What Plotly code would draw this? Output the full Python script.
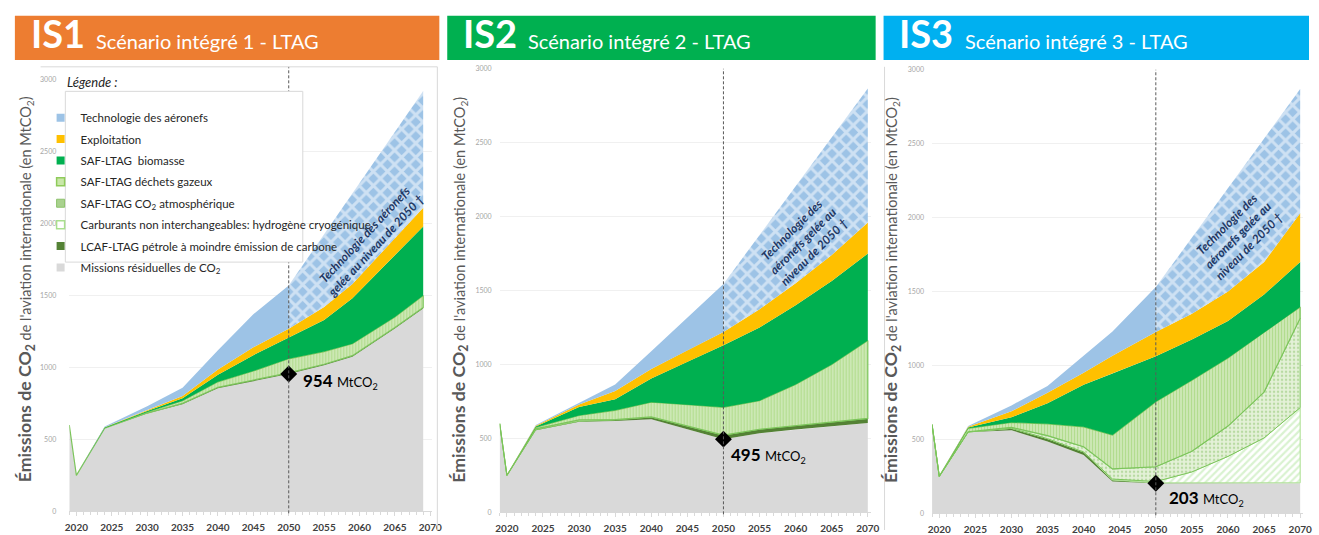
"""Trajectoires d'émissions CO2 de l'aviation internationale - scénarios intégrés LTAG."""

import plotly.graph_objects as go

W, H = 1319, 535
FONT = "Lato"

# cumulative levels (top of each band), MtCO2
IS1_YEARS = [2019, 2020, 2024, 2030, 2035, 2040, 2045, 2050, 2055, 2059, 2065, 2069]
IS1_RESIDUAL = [600, 250, 578, 680, 745, 855, 905, 954, 1015, 1075, 1270, 1410]
IS1_LCAF = [600, 250, 578, 683, 750, 862, 912, 962, 1022, 1082, 1277, 1417]
IS1_H2 = [600, 250, 578, 683, 750, 862, 912, 962, 1022, 1082, 1277, 1417]
IS1_CO2_ATM = [600, 250, 578, 683, 750, 862, 912, 962, 1022, 1082, 1277, 1417]
IS1_DECHETS = [600, 250, 580, 690, 768, 900, 975, 1060, 1110, 1165, 1350, 1500]
IS1_BIOMASSE = [600, 250, 582, 697, 785, 950, 1085, 1205, 1330, 1480, 1780, 1980]
IS1_EXPLOITATION = [600, 250, 585, 705, 802, 985, 1140, 1268, 1420, 1580, 1900, 2110]
IS1_TECHNO = [600, 250, 590, 730, 858, 1120, 1370, 1570, 1925, 2210, 2640, 2920]

IS2_YEARS = [2019, 2020, 2024, 2030, 2035, 2040, 2045, 2050, 2055, 2060, 2065, 2070]
IS2_RESIDUAL = [600, 250, 555, 612, 618, 630, 562, 495, 535, 560, 585, 605]
IS2_LCAF = [600, 250, 558, 616, 624, 645, 585, 522, 562, 590, 612, 635]
IS2_H2 = [600, 250, 558, 616, 624, 645, 585, 522, 562, 590, 612, 635]
IS2_CO2_ATM = [600, 250, 565, 625, 628, 645, 585, 522, 562, 590, 612, 635]
IS2_DECHETS = [600, 250, 575, 655, 690, 745, 728, 710, 755, 865, 1000, 1163]
IS2_BIOMASSE = [600, 250, 580, 712, 765, 905, 1018, 1130, 1250, 1400, 1565, 1750]
IS2_EXPLOITATION = [600, 250, 585, 730, 820, 970, 1097, 1220, 1374, 1550, 1740, 1960]
IS2_TECHNO = [600, 250, 590, 740, 865, 1090, 1315, 1545, 1875, 2206, 2536, 2867]

IS3_YEARS = [2019, 2020, 2024, 2030, 2035, 2040, 2044, 2050, 2055, 2060, 2065, 2070]
IS3_RESIDUAL = [600, 250, 548, 562, 485, 395, 215, 203, 203, 203, 203, 203]
IS3_LCAF = [600, 250, 550, 575, 505, 415, 225, 206, 206, 206, 206, 206]
IS3_H2 = [600, 250, 550, 575, 505, 415, 232, 215, 280, 385, 510, 715]
IS3_CO2_ATM = [600, 250, 552, 582, 525, 450, 300, 315, 420, 590, 820, 1320]
IS3_DECHETS = [600, 250, 575, 615, 605, 585, 529, 755, 900, 1050, 1225, 1395]
IS3_BIOMASSE = [600, 250, 580, 650, 745, 870, 945, 1063, 1175, 1300, 1480, 1700]
IS3_EXPLOITATION = [600, 250, 585, 690, 815, 950, 1065, 1226, 1350, 1500, 1700, 2030]
IS3_TECHNO = [600, 250, 590, 730, 861, 1066, 1230, 1530, 1865, 2200, 2535, 2870]

FREEZE_YEAR = 2050
EMISSIONS_2050 = [954, 495, 203]

SCENARIO_CODES = ["IS1", "IS2", "IS3"]
SCENARIO_NAMES = ["Scénario intégré 1 - LTAG", "Scénario intégré 2 - LTAG", "Scénario intégré 3 - LTAG"]
BANNER_COLORS = ["#ED7D31", "#00B050", "#00B0F0"]

LEGEND_LABELS = [
    "Technologie des aéronefs",
    "Exploitation",
    "SAF-LTAG  biomasse",
    "SAF-LTAG déchets gazeux",
    "SAF-LTAG CO<sub>2</sub> atmosphérique",
    "Carburants non interchangeables: hydrogène cryogénique",
    "LCAF-LTAG pétrole à moindre émission de carbone",
    "Missions résiduelles de CO<sub>2</sub>",
]

FROZEN_TEXT = [
    "Technologie des aéronefs<br>gelée au niveau de 2050 †",
    "Technologie des<br>aéronefs gelée au<br>niveau de 2050 †",
    "Technologie des<br>aéronefs gelée au<br>niveau de 2050 †",
]

SCENARIOS = [
    (IS1_YEARS, [IS1_RESIDUAL, IS1_LCAF, IS1_H2, IS1_CO2_ATM, IS1_DECHETS,
                 IS1_BIOMASSE, IS1_EXPLOITATION, IS1_TECHNO]),
    (IS2_YEARS, [IS2_RESIDUAL, IS2_LCAF, IS2_H2, IS2_CO2_ATM, IS2_DECHETS,
                 IS2_BIOMASSE, IS2_EXPLOITATION, IS2_TECHNO]),
    (IS3_YEARS, [IS3_RESIDUAL, IS3_LCAF, IS3_H2, IS3_CO2_ATM, IS3_DECHETS,
                 IS3_BIOMASSE, IS3_EXPLOITATION, IS3_TECHNO]),
]

GREEN_EDGE = "#7CC55B"
BAND_STYLES = [
    dict(fillcolor="#D9D9D9", line=dict(width=0)),
    dict(fillcolor="#548235", line=dict(width=0)),
    dict(fillpattern=dict(shape="/", fgcolor="#B4E6A2", bgcolor="#FFFFFF", size=5, solidity=0.45),
         line=dict(color="#A9DF8E", width=1)),
    dict(fillpattern=dict(shape=".", fgcolor="#8CC26B", bgcolor="#E4F1D8", size=4, solidity=0.3),
         line=dict(color=GREEN_EDGE, width=1)),
    dict(fillpattern=dict(shape="|", fgcolor="#86C94E", bgcolor="#DDEFCD", size=3, solidity=0.6),
         line=dict(color=GREEN_EDGE, width=1.2)),
    dict(fillcolor="#00B050", line=dict(width=0)),
    dict(fillcolor="#FFC000", line=dict(width=0)),
    dict(fillcolor="#9DC3E6", line=dict(width=0)),
]
FROZEN_STYLE = dict(fillpattern=dict(shape="x", fgcolor="#FFFFFF", bgcolor="#9DC3E6", size=10, solidity=0.5),
                    line=dict(width=0))

LEGEND_MARKERS = [
    dict(color="#9DC3E6"),
    dict(color="#FFC000"),
    dict(color="#00B050"),
    dict(color="#C9E7A9", line=dict(color="#8FCB5A", width=1.5)),
    dict(color="#A9D18E", line=dict(color="#8CC26B", width=1)),
    dict(color="#FFFFFF", line=dict(color="#A9DF8E", width=1.5)),
    dict(color="#548235"),
    dict(color="#D9D9D9"),
]

# panel geometry in pixels: (x of 2019, x right end, y of 0, y of 3000)
PANELS = [(66, 433, 516, 76), (501, 876, 517, 65), (938, 1313, 518, 66)]
X_END = [2070.3, 2070.4, 2070.4]


def px(x):
    return x / W


def py(y):
    return 1 - y / H


def band(xs, lower, upper):
    return list(xs) + list(xs[::-1]), list(upper) + list(lower[::-1])


fig = go.Figure()

for i, (years, levels) in enumerate(SCENARIOS):
    xa = "x" if i == 0 else f"x{i + 1}"
    ya = "y" if i == 0 else f"y{i + 1}"
    lower = [0] * len(years)
    for k, upper in enumerate(levels):
        if k == 7:
            cut = years.index(FREEZE_YEAR)
            bx, by = band(years[:cut + 1], lower[:cut + 1], upper[:cut + 1])
            fig.add_trace(go.Scatter(x=bx, y=by, fill="toself", mode="lines", xaxis=xa, yaxis=ya,
                                     showlegend=False, hoverinfo="skip", **BAND_STYLES[k]))
            bx, by = band(years[cut:], lower[cut:], upper[cut:])
            fig.add_trace(go.Scatter(x=bx, y=by, fill="toself", mode="lines", xaxis=xa, yaxis=ya,
                                     showlegend=False, hoverinfo="skip", **FROZEN_STYLE))
        elif any(u != l for u, l in zip(upper, lower)):
            bx, by = band(years, lower, upper)
            fig.add_trace(go.Scatter(x=bx, y=by, fill="toself", mode="lines", xaxis=xa, yaxis=ya,
                                     showlegend=False, hoverinfo="skip", **BAND_STYLES[k]))
        lower = upper

    # 2050 marker
    fig.add_trace(go.Scatter(x=[FREEZE_YEAR], y=[EMISSIONS_2050[i]], mode="markers", xaxis=xa, yaxis=ya,
                             marker=dict(symbol="diamond", size=13, color="black"),
                             showlegend=False, hoverinfo="skip"))

# legend entries
for label, marker in zip(LEGEND_LABELS, LEGEND_MARKERS):
    fig.add_trace(go.Scatter(x=[None], y=[None], mode="markers", name=label, legendgroup=label,
                             marker=dict(symbol="square", size=8, **marker)))

shapes = []
annotations = []

for i, (x0, x1, y0, y3000) in enumerate(PANELS):
    xa_key = "xaxis" if i == 0 else f"xaxis{i + 1}"
    ya_key = "yaxis" if i == 0 else f"yaxis{i + 1}"
    xa = "x" if i == 0 else f"x{i + 1}"
    ya = "y" if i == 0 else f"y{i + 1}"
    fig.layout[xa_key] = dict(
        domain=[px(x0), px(x1)], range=[2019, X_END[i]], anchor=ya,
        tickmode="linear", tick0=2020, dtick=5,
        ticks="outside", ticklen=4, tickcolor="#D9D9D9",
        minor=dict(dtick=1, tick0=2019, ticks="outside", ticklen=3, tickcolor="#D9D9D9"),
        showline=True, linecolor="#D9D9D9", showgrid=False, zeroline=False,
        tickfont=dict(family=FONT, size=10, color="#404040", weight="bold"),
        ticklabelstandoff=3,
        fixedrange=True,
    )
    fig.layout[ya_key] = dict(
        domain=[py(y0), py(y3000)], range=[0, 3000], anchor=xa,
        dtick=500, showgrid=True, gridcolor="#F0F0F0", zeroline=False, showline=False,
        tickfont=dict(family=FONT, size=7, color="#A6A6A6"),
        ticklabelstandoff=12 if i == 0 else 7,
        fixedrange=True,
    )

    # banner
    bx0 = [11, 448, 889][i]
    bx1 = [440, 881, 1319][i]
    shapes.append(dict(type="rect", xref="paper", yref="paper", x0=px(bx0), x1=px(bx1),
                       y0=py(56), y1=py(11), fillcolor=BANNER_COLORS[i], line=dict(width=0), layer="below"))
    annotations.append(dict(xref="paper", yref="paper", x=px(bx0 + 14), y=py(29), xanchor="left",
                            yanchor="middle", showarrow=False, text=f"<b>{SCENARIO_CODES[i]}</b>",
                            font=dict(family=FONT, size=38, color="white")))
    annotations.append(dict(xref="paper", yref="paper", x=px(bx0 + 80), y=py(37), xanchor="left",
                            yanchor="middle", showarrow=False, text=SCENARIO_NAMES[i],
                            font=dict(family=FONT, size=20, color="white")))

    # y title
    annotations.append(dict(
        xref="paper", yref="paper", x=px([22, 460, 897][i]), y=py(290), textangle=-90,
        xanchor="center", yanchor="middle", showarrow=False,
        text="<b><span style='font-size:17.7px'>Émissions de CO<sub>2</sub></span></b>"
             " de l'aviation internationale (en MtCO<sub>2</sub>)",
        font=dict(family=FONT, size=14.5, color="#595959"),
    ))

    # 2050 reference line
    shapes.append(dict(type="line", xref=xa, yref="paper", x0=FREEZE_YEAR, x1=FREEZE_YEAR,
                       y0=py(y0 + 2), y1=py([63, 65, 66][i]),
                       line=dict(color="#595959", width=1, dash="3px,2px"), layer="above"))

    # 2050 value label
    annotations.append(dict(
        xref=xa, yref=ya, x=FREEZE_YEAR, y=EMISSIONS_2050[i], xanchor="left", yanchor="middle",
        xshift=[12, 6, 11][i], yshift=[-7, -16, -15][i], showarrow=False,
        text=f"<b>{EMISSIONS_2050[i]}</b> <span style='font-size:13px'>MtCO<sub>2</sub></span>",
        font=dict(family=FONT, size=17, color="black"),
    ))

    # frozen technology label
    cx, cy, ang = [(370, 240, -47), (807, 240, -45), (1247, 234, -45)][i]
    annotations.append(dict(
        xref="paper", yref="paper", x=px(cx), y=py(cy), xanchor="center", yanchor="middle",
        textangle=ang, showarrow=False, text=f"<b><i>{FROZEN_TEXT[i]}</i></b>",
        font=dict(family=FONT, size=12, color="#1F3864"),
    ))

# panel frames
frame = dict(color="#D9D9D9", width=1)
shapes.append(dict(type="line", xref="paper", yref="paper", x0=px(37), x1=px(438), y0=py(63), y1=py(63), line=frame))
shapes.append(dict(type="line", xref="paper", yref="paper", x0=px(438), x1=px(438), y0=py(63), y1=0, line=frame))
shapes.append(dict(type="line", xref="paper", yref="paper", x0=px(890), x1=px(890), y0=py(63), y1=0, line=frame))

# legend box (drawn last so it hides the grid and the 2050 line)
shapes.append(dict(type="rect", xref="paper", yref="paper", x0=px(62), x1=px(302), y0=py(262), y1=py(88),
                   fillcolor="white", line=dict(color="#D9D9D9", width=1), layer="above"))
annotations.append(dict(xref="paper", yref="paper", x=px(62), y=py(78), xanchor="left", yanchor="middle",
                        showarrow=False, text="<i>Légende :</i>",
                        font=dict(family=FONT, size=13, color="#262626")))

fig.update_layout(
    width=W,
    height=H,
    margin=dict(l=0, r=0, t=0, b=0),
    paper_bgcolor="white",
    plot_bgcolor="white",
    font=dict(family=FONT),
    shapes=shapes,
    annotations=annotations,
    showlegend=True,
    legend=dict(
        x=px(37), y=py(100), xanchor="left", yanchor="top",
        bgcolor="rgba(0,0,0,0)", borderwidth=0,
        font=dict(family=FONT, size=11.5, color="#262626"),
        tracegroupgap=2.4,
    ),
)

# the page body has a default 8px margin; drop it so the figure fills the window
fig.write_html("out.html", config={"displayModeBar": False},
               post_script="document.body.style.margin = '0px';")
